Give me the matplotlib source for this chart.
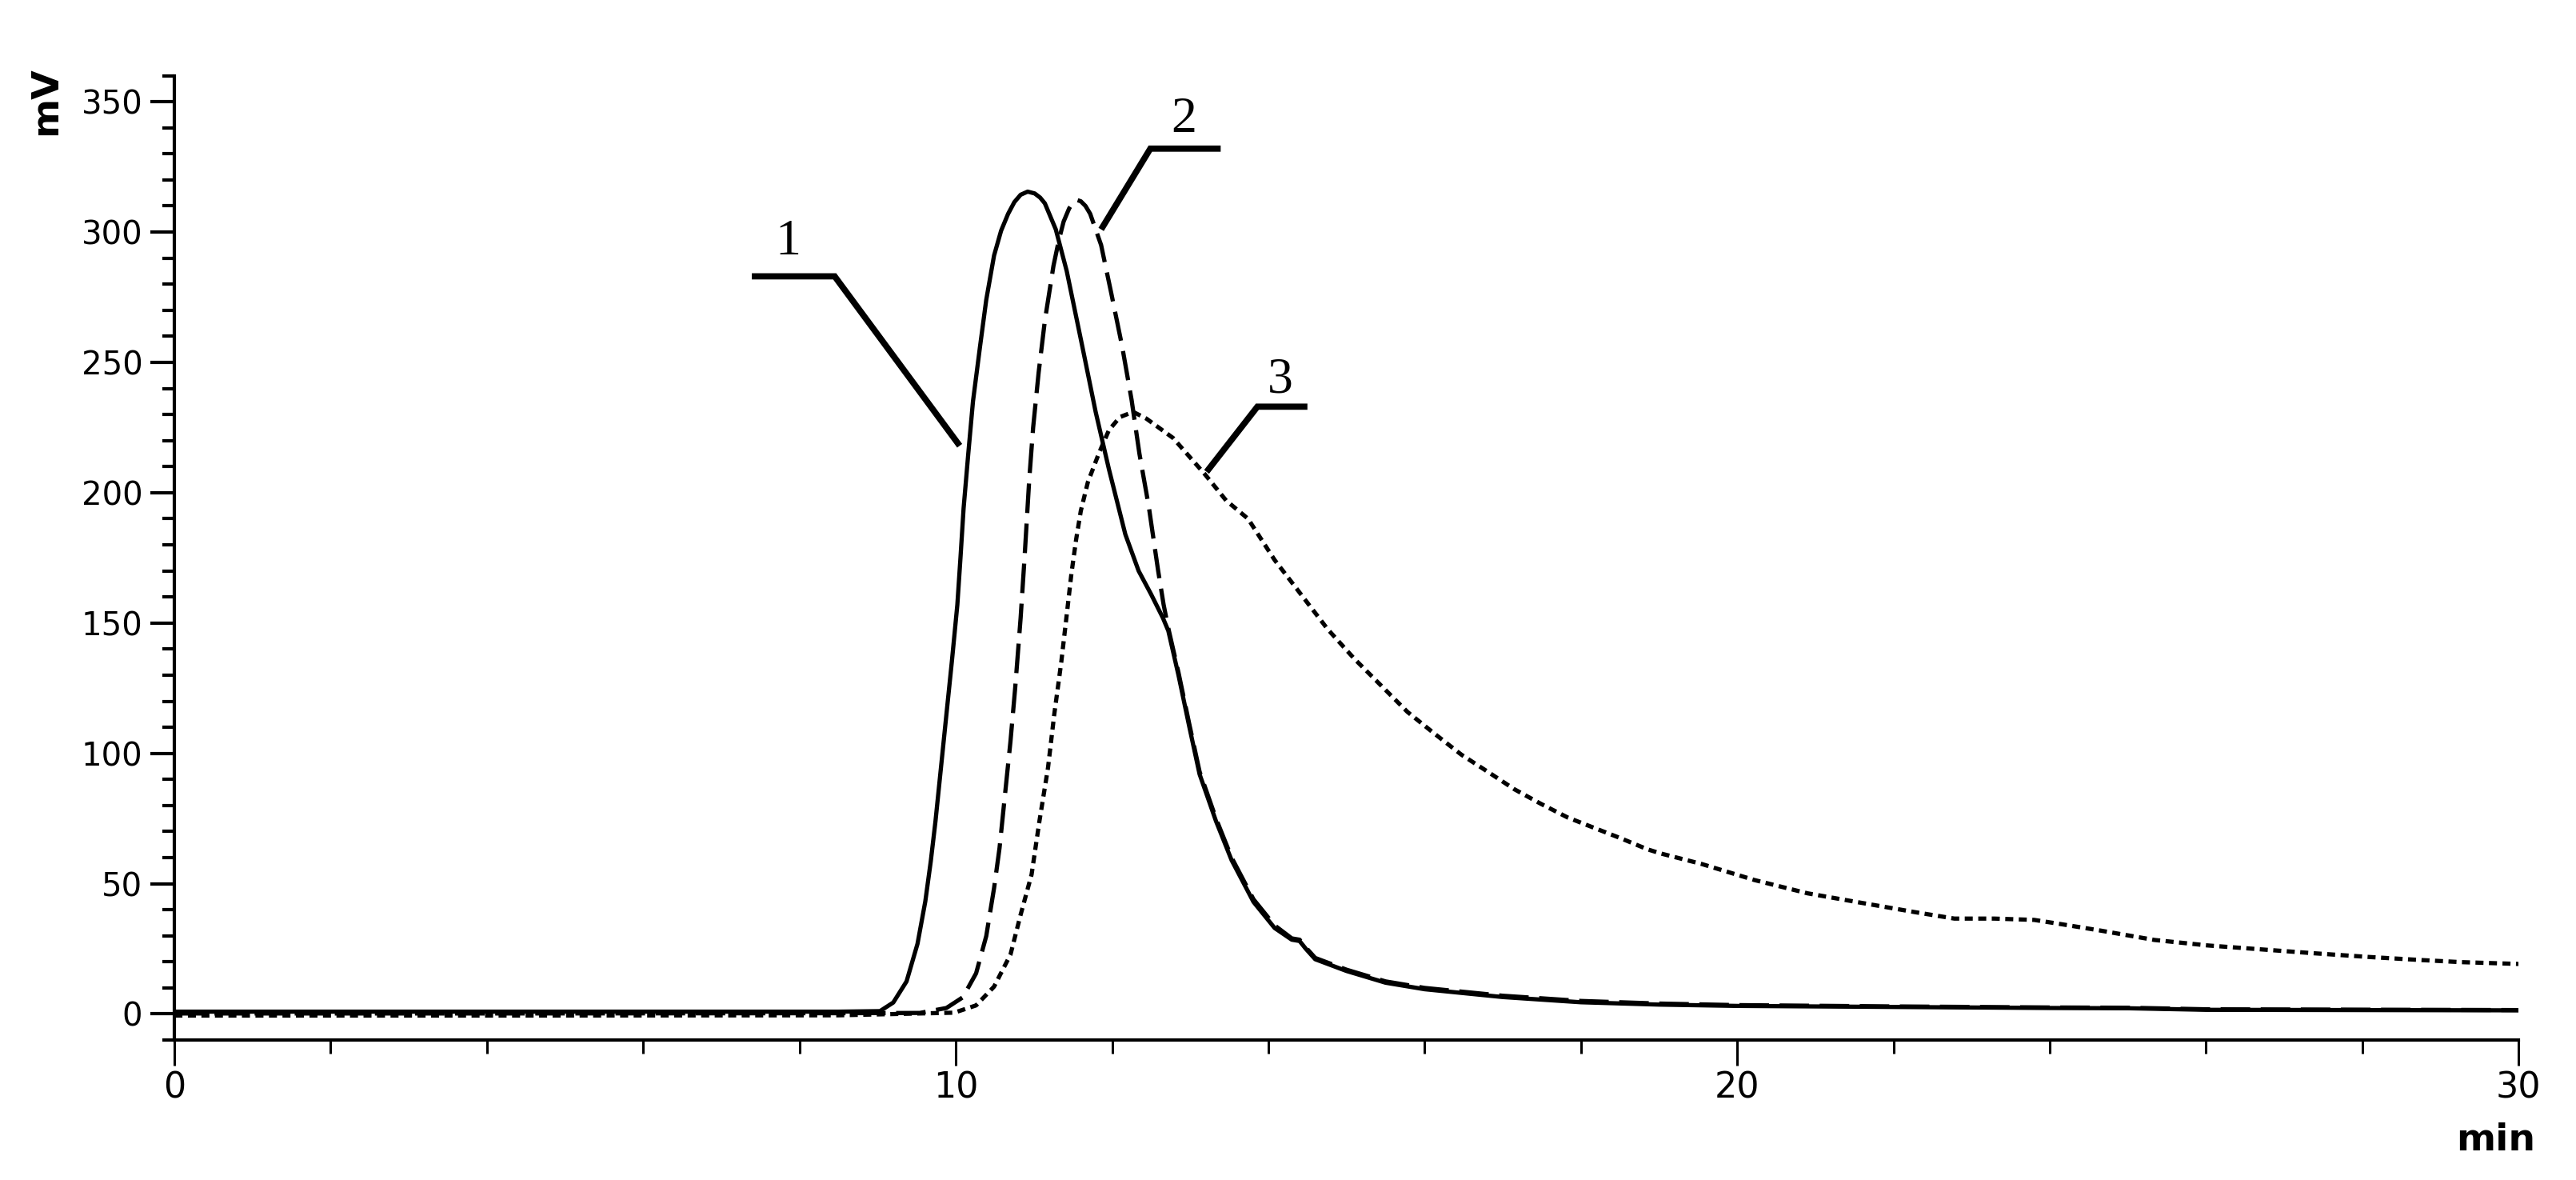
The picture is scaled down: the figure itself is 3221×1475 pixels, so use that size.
#Cromatogramas de las tres muestras (mV contra min)
import numpy as np
import matplotlib.pyplot as plt
from matplotlib.ticker import MultipleLocator

#Curva 1 (linea continua)
t1 = [0, 4, 8.5, 9.03, 9.20, 9.37, 9.51, 9.61, 9.68, 9.74, 9.81, 9.88, 9.95, 10.02, 10.06, 10.10,
      10.16, 10.22, 10.31, 10.39, 10.49, 10.58, 10.67, 10.75, 10.83, 10.92, 11.01, 11.08, 11.14,
      11.28, 11.42, 11.62, 11.79, 11.96, 12.17, 12.34, 12.50, 12.65, 12.72, 12.85, 12.99, 13.12,
      13.33, 13.53, 13.81, 14.08, 14.30, 14.40, 14.48, 14.60, 15.0, 15.5, 16.0, 17.0, 18.0, 19.0,
      20.0, 22.0, 24.0, 25.0, 26.0, 30.0]
s1 = [0.9, 0.9, 0.9, 1.1, 4.4, 12.5, 26.9, 43.2, 58.6, 73.9, 94.4, 114.9, 135.3, 157, 175, 194,
      215, 235, 256, 274, 291, 300.5, 307, 311.5, 314.3, 315.5, 314.8, 313.2, 311,
      301, 285, 256, 231, 209, 184, 170, 161, 152, 147, 130, 110, 92,
      74, 59, 43, 33, 28.5, 28, 25, 21, 16.5, 12, 9.5, 6.5, 4.5, 3.6,
      3.1, 2.7, 2.3, 2.2, 1.6, 1.4]

#Curva 2 (linea de trazos)
t2 = [0, 4, 8.5, 9.54, 9.88, 10.09, 10.26, 10.39, 10.49, 10.56, 10.63, 10.70, 10.76, 10.83, 10.88,
      10.94, 10.99, 11.06, 11.14, 11.25, 11.32, 11.38, 11.45, 11.50, 11.55, 11.60, 11.66, 11.72,
      11.86, 11.99, 12.13, 12.25, 12.35, 12.47, 12.59, 12.66, 12.72, 12.85, 12.99, 13.12, 13.33,
      13.53, 13.81, 14.08, 14.30, 14.40, 14.48, 14.60, 15.0, 15.5, 16.0, 17.0, 18.0, 19.0, 20.0,
      22.0, 24.0, 25.0, 26.0, 30.0]
s2 = [0.2, 0.2, 0.3, 0.4, 2.3, 6.4, 15.6, 29.9, 48.3, 63.7, 84.2, 104.6, 125, 152, 175,
      205, 225, 246, 266, 287, 297, 304, 309, 311.3, 312.3, 311.8, 310, 307,
      295, 276.5, 256, 235.6, 215, 194.7, 170, 157, 148, 131, 111, 93, 75,
      60, 44, 34, 29, 28.5, 25.5, 21.5, 17, 12.5, 10, 7, 5, 4, 3.4,
      2.9, 2.5, 2.4, 1.8, 1.5]

#Curva 3 (linea punteada)
t3 = [0, 4, 8.5, 9.98, 10.26, 10.49, 10.70, 10.83, 10.97, 11.07, 11.18, 11.26, 11.35, 11.43, 11.48,
      11.54, 11.60, 11.69, 11.83, 11.96, 12.10, 12.27, 12.44, 12.78, 13.19, 13.46, 13.74, 14.08,
      14.42, 14.76, 15.10, 15.44, 15.78, 16.12, 16.47, 16.81, 17.15, 17.49, 17.83, 18.17, 18.52,
      18.85, 19.02, 19.54, 20.22, 20.90, 21.58, 22.27, 22.78, 23.29, 23.80, 24.14, 24.65, 25.34,
      26.02, 26.70, 27.38, 28.07, 28.75, 29.26, 30.0]
s3 = [-0.6, -0.6, -0.5, 0.5, 3.3, 10.5, 22.8, 38.1, 53.5, 73.9, 94.4, 114.9, 135, 155.8, 169,
      182, 193, 204, 215, 224, 229, 231, 228.4, 221, 207, 197, 190, 174.2,
      160.9, 147.6, 136.3, 126.1, 115.9, 107.7, 99.5, 92.9, 86.2, 80.6, 75.4, 71.4, 67.3,
      63.2, 61.6, 57.6, 51.4, 46.3, 42.7, 39.1, 36.6, 36.6, 36.1, 34.5, 32.0, 28.4,
      26.3, 24.8, 23.3, 21.9, 20.7, 19.9, 19.2]

#Etiquetas de las curvas: texto, posicion del texto y quiebres de la linea guia
etiquetas = ["1", "2", "3"]
pos_texto = [(7.85, 296), (12.92, 343), (14.15, 243)]
guias = [[(7.39, 283), (8.45, 283), (10.05, 218)],
         [(13.39, 332), (12.49, 332), (11.86, 301)],
         [(14.50, 233), (13.86, 233), (13.21, 208)]]

fig = plt.figure(figsize=(16.105, 7.375), dpi=200)
ax = fig.add_axes([0.0677, 0.1186, 0.91, 0.8173])

ax.plot(t1, s1, color="black", lw=1.9, solid_capstyle="butt")
ax.plot(t2, s2, color="black", lw=1.9, dashes=(7.0, 2.5))
ax.plot(t3, s3, color="black", lw=1.9, dashes=(1.9, 1.3))

#Lineas guia y numeros
for txt, (xt, yt), g in zip(etiquetas, pos_texto, guias):
    gx = [p[0] for p in g]
    gy = [p[1] for p in g]
    ax.plot(gx, gy, color="black", lw=2.8, solid_joinstyle="miter", solid_capstyle="butt")
    ax.text(xt, yt, txt, family="Liberation Serif", fontsize=23, ha="center", va="center")

#Ejes
ax.set_xlim(0, 30)
ax.set_ylim(-10, 360)
ax.spines["top"].set_visible(False)
ax.spines["right"].set_visible(False)
ax.spines["left"].set_linewidth(1.5)
ax.spines["bottom"].set_linewidth(1.5)
ax.xaxis.set_major_locator(MultipleLocator(10))
ax.xaxis.set_minor_locator(MultipleLocator(2))
ax.yaxis.set_major_locator(MultipleLocator(50))
ax.yaxis.set_minor_locator(MultipleLocator(10))
ax.tick_params(axis="y", which="major", length=10.8, width=1.5, pad=3.5, labelsize=14.5)
ax.tick_params(axis="y", which="minor", length=5.4, width=1.5)
ax.tick_params(axis="x", which="major", length=11.5, width=1.1, pad=2.5, labelsize=16)
ax.tick_params(axis="x", which="minor", length=6, width=1.1)

#Titulos de los ejes
fig.text(58 / 3221, 1 - 126 / 1475, "mV", rotation=90, fontsize=17, fontweight="bold",
         ha="center", va="center")
fig.text(3121 / 3221, 1 - 1425 / 1475, "min", fontsize=17, fontweight="bold",
         ha="center", va="center")

fig.savefig("out.png", dpi=200)
